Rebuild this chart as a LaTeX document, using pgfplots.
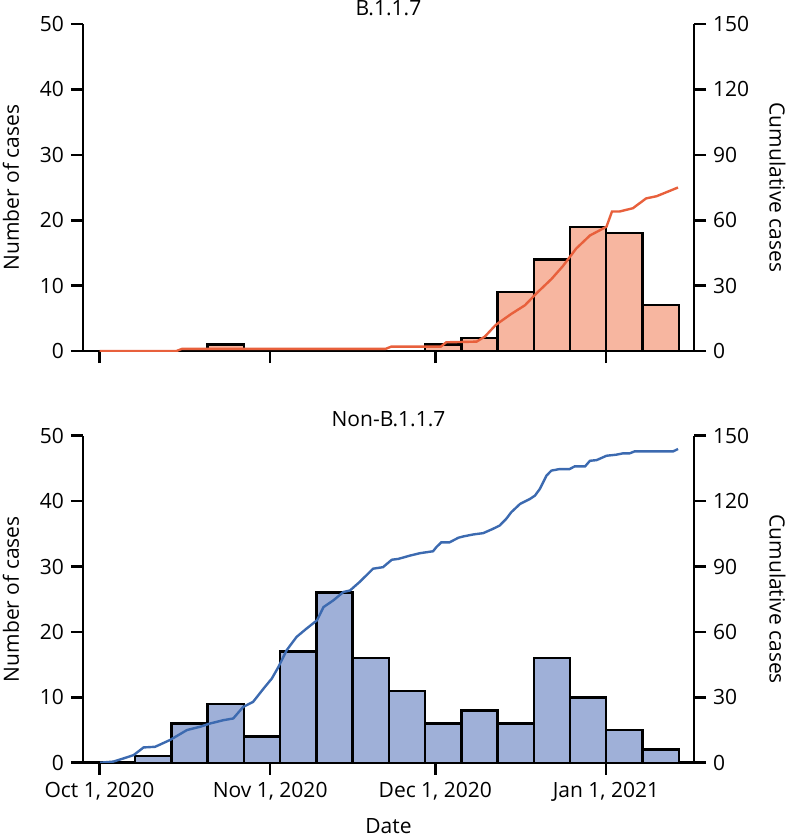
\documentclass[border=0pt]{standalone}
\usepackage{fontspec}
\setmainfont{Open Sans}
\usepackage{pgfplots}
\pgfplotsset{compat=1.18}
\definecolor{salmon}{HTML}{F7B6A0}
\definecolor{redline}{HTML}{E8603C}
\definecolor{bluefill}{HTML}{9FB0D8}
\definecolor{blueline}{HTML}{3C6AB0}
\pgfplotsset{
  base/.style={
    width=305.5pt, height=163.5pt, scale only axis,
    xmin=-3, xmax=108,
    axis line style={line width=1.3pt, black},
    every tick/.style={line width=1.3pt, black},
    tick align=outside, major tick length=6pt,
    /pgf/number format/assume math mode=true,
    tick label style={font=\fontsize{10.5}{12}\selectfont},
    label style={font=\fontsize{10.5}{12}\selectfont},
    title style={font=\fontsize{10.5}{12}\selectfont, at={(axis description cs:0.5,1)}, anchor=base, yshift=-1.5pt, inner sep=0pt},
  },
  leftax/.style={base,
    ymin=0, ymax=50, ytick={0,10,20,30,40,50},
    axis x line*=bottom, axis y line*=left,
    xtick={0,31,61,92},
    ylabel={Number of cases},
    ylabel style={at={(axis description cs:-0.1178,0.5)}, anchor=center},
  },
  rightax/.style={base,
    ymin=0, ymax=150, ytick={0,30,60,90,120,150},
    axis y line*=right, axis x line=none,
    ylabel={Cumulative cases},
    ylabel style={at={(axis description cs:1.1367,0.5)}, anchor=center, rotate=180},
  },
}
\begin{document}
\begin{tikzpicture}
\useasboundingbox (-41.5pt,-242.5pt) rectangle (352.5pt,175.5pt);
% ---------- top panel: B.1.1.7 ----------
\begin{axis}[leftax, at={(0pt,0pt)}, anchor=south west, xticklabels={,,,}, title={B.1.1.7}]
\addplot[ybar interval, fill=salmon, draw=black, line width=1.2pt] coordinates {
(-0.10,0) (6.48,0) (13.07,0) (19.65,1) (26.23,0) (32.82,0) (39.40,0) (45.98,0)
(52.56,0) (59.15,1) (65.73,2) (72.31,9) (78.90,14) (85.48,19) (92.06,18) (98.65,7) (105.23,0)};
\end{axis}
\begin{axis}[rightax, at={(0pt,0pt)}, anchor=south west]
\addplot[redline, line width=1.2pt, sharp plot, mark=none] coordinates {
(0,0) (14,0) (15,1) (52,1) (53,2) (62,2) (63,4) (68.5,4.3) (70,6.6) (72,12) (74.8,17)
(77.3,21) (79.4,26.5) (82.1,33) (84.2,39) (86.6,47) (89.1,53) (92.1,57) (93.1,64)
(94.5,64) (96.9,65.5) (99.3,70) (101.2,71) (105.1,75)};
\end{axis}
% ---------- bottom panel: Non-B.1.1.7 ----------
\begin{axis}[leftax, at={(0pt,-205.85pt)}, anchor=south west,
  xticklabels={{Oct 1, 2020},{Nov 1, 2020},{Dec 1, 2020},{Jan 1, 2021}},
  xlabel={Date}, xlabel style={at={(axis description cs:0.5,0)}, anchor=base, yshift=-35.6pt},
  title={Non-B.1.1.7}]
\addplot[ybar interval, fill=bluefill, draw=black, line width=1.2pt] coordinates {
(-0.10,0) (6.48,1) (13.07,6) (19.65,9) (26.23,4) (32.82,17) (39.40,26) (45.98,16)
(52.56,11) (59.15,6) (65.73,8) (72.31,6) (78.90,16) (85.48,10) (92.06,5) (98.65,2) (105.23,0)};
\end{axis}
\begin{axis}[rightax, at={(0pt,-205.85pt)}, anchor=south west]
\addplot[blueline, line width=1.2pt, sharp plot, mark=none] coordinates {
(0.1,0) (2.5,0.5) (4.4,2) (6.2,3.5) (8,7) (10.1,7.3) (12.8,10.4) (15.9,15) (18.3,16.5)
(20.1,18) (22.5,19.5) (24.3,20.3) (26.1,25.6) (27.9,27.9) (29.8,34) (31.3,38.6)
(32.5,43.9) (34,51.6) (35.8,57.7) (37.6,61.5) (39.5,65.3) (40.7,71.4) (42.5,74.5)
(44.3,78.3) (45.5,79) (47.3,83) (49.7,89) (51.5,89.7) (53.1,93.1) (54.3,93.5)
(56.4,95) (58.2,96.1) (60.6,97) (61.2,98.9) (62.1,101.1) (63.6,101.1) (65.2,103.2)
(66.1,103.8) (67.9,104.7) (69.7,105.3) (71.5,107.3) (72.7,108.8) (73.9,111.9)
(74.8,114.9) (76.4,118.7) (78.2,121) (79.1,122.5) (80,125.6) (81.2,131.7) (82.1,134)
(83.6,134.7) (85.4,134.7) (86.3,135.9) (88.2,135.9) (89.1,138.5) (90.3,138.8)
(92.1,140.8) (93.9,141.3) (95.1,141.9) (96.3,141.9) (97.2,142.8) (104.2,142.8) (105.1,143.9)};
\end{axis}
\end{tikzpicture}
\end{document}
